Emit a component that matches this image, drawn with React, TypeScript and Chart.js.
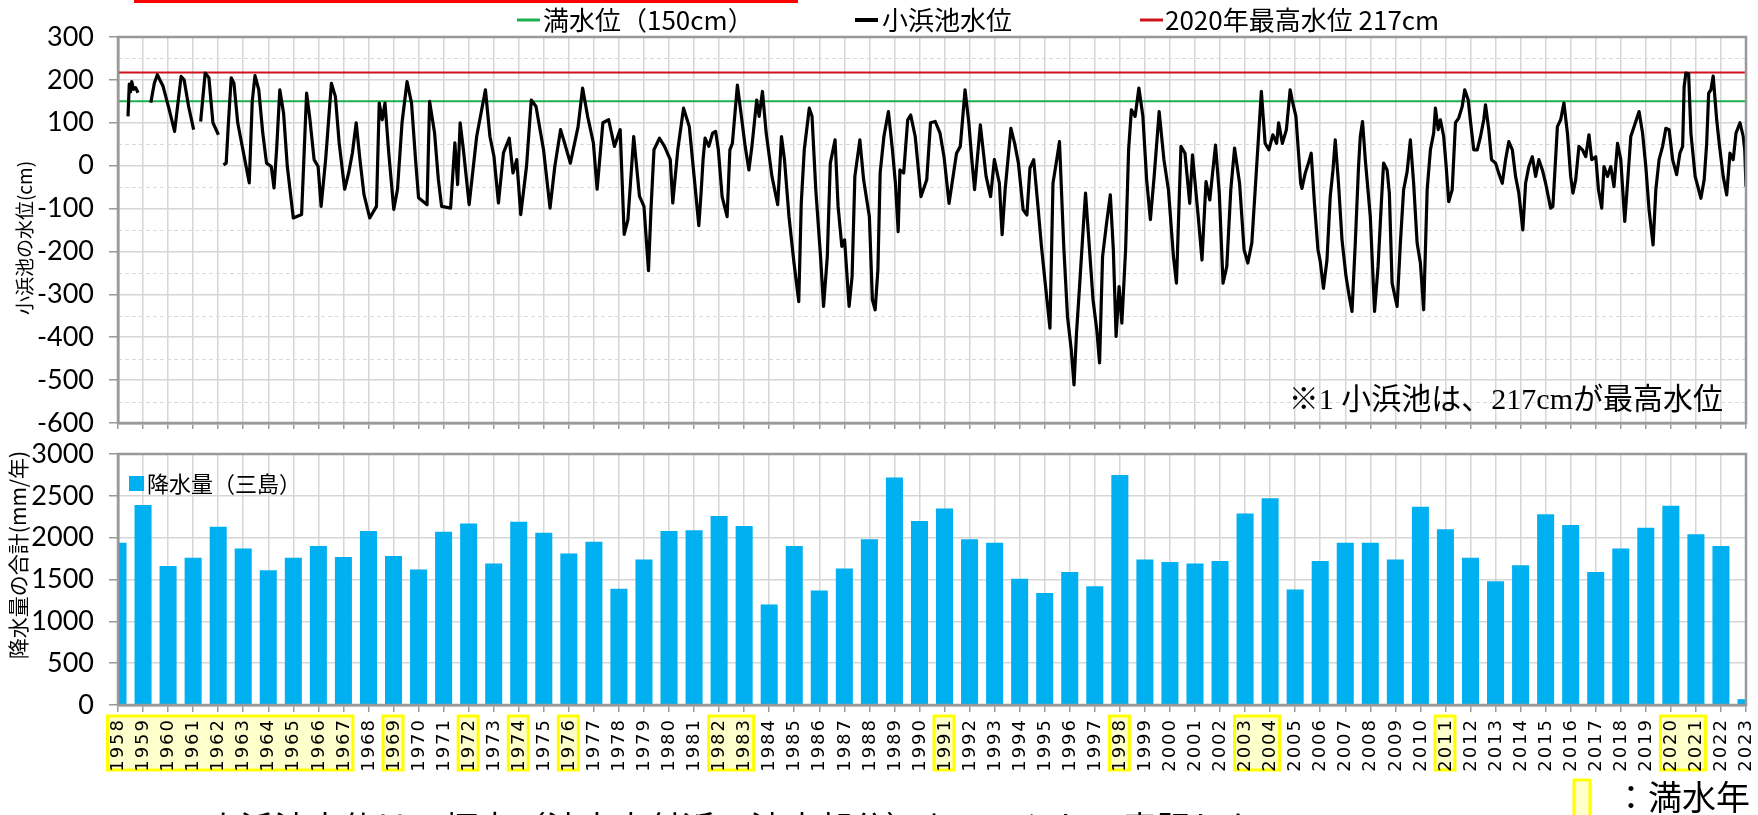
import React, { useEffect, useRef } from 'react';
import { Chart, registerables } from 'chart.js';

Chart.register(...registerables);

// ---------- data ----------
const yearLabels: string[] = [
  '1958', '1959', '1960', '1961', '1962', '1963', '1964', '1965', '1966', '1967',
  '1968', '1969', '1970', '1971', '1972', '1973', '1974', '1975', '1976', '1977',
  '1978', '1979', '1980', '1981', '1982', '1983', '1984', '1985', '1986', '1987',
  '1988', '1989', '1990', '1991', '1992', '1993', '1994', '1995', '1996', '1997',
  '1998', '1999', '2000', '2001', '2002', '2003', '2004', '2005', '2006', '2007',
  '2008', '2009', '2010', '2011', '2012', '2013', '2014', '2015', '2016', '2017',
  '2018', '2019', '2020', '2021', '2022', '2023',
];

// 降水量（三島） mm/年
const rainfall: number[] = [
  1940, 2390, 1660, 1760, 2130, 1870, 1610, 1760, 1900, 1770,
  2080, 1780, 1620, 2070, 2170, 1690, 2190, 2060, 1810, 1950,
  1390, 1740, 2080, 2090, 2260, 2140, 1200, 1900, 1370, 1630,
  1980, 2720, 2200, 2350, 1980, 1940, 1510, 1340, 1590, 1420,
  2750, 1740, 1710, 1690, 1720, 2290, 2470, 1380, 1720, 1940,
  1940, 1740, 2370, 2100, 1760, 1480, 1670, 2280, 2150, 1590,
  1870, 2120, 2380, 2040, 1900, 70,
];

// 満水年 (highlighted year spans)
const fullYearSpans: [string, string][] = [
  ['1958', '1967'], ['1969', '1969'], ['1972', '1972'], ['1974', '1974'],
  ['1976', '1976'], ['1982', '1983'], ['1991', '1991'], ['1998', '1998'],
  ['2003', '2004'], ['2011', '2011'], ['2020', '2021'],
];

// 小浜池水位 (cm) : [year, level]
const levelPoints: [number, number | null][] = [
  [1958.40, 115], [1958.45, 190], [1958.50, 172], [1958.55, 196], [1958.62, 178], [1958.70, 182], [1958.80, 170], [1959.00, null],
  [1959.31, 147], [1959.45, 192], [1959.57, 212], [1959.80, 185], [1960.03, 134], [1960.26, 80], [1960.41, 154], [1960.52, 208],
  [1960.64, 200], [1960.82, 138], [1961.02, 84], [1961.15, null],
  [1961.30, 103], [1961.48, 216], [1961.63, 205], [1961.79, 100], [1962.01, 72], [1962.10, null],
  [1962.21, 2], [1962.32, 6], [1962.40, 91], [1962.52, 205], [1962.63, 192], [1962.78, 100], [1963.01, 30], [1963.24, -40],
  [1963.36, 150], [1963.47, 210], [1963.62, 177], [1963.78, 76], [1963.93, 6], [1964.12, -2], [1964.23, -52], [1964.34, 45],
  [1964.46, 177], [1964.61, 123], [1964.76, -2], [1965.00, -122], [1965.33, -114], [1965.53, 169], [1965.65, 115], [1965.83, 14],
  [1965.99, -2], [1966.11, -95], [1966.29, 14], [1966.52, 192], [1966.68, 161], [1966.83, 53], [1967.05, -55], [1967.21, -17],
  [1967.36, 30], [1967.51, 100], [1967.66, 14], [1967.82, -67], [1968.05, -122], [1968.32, -95], [1968.43, 146], [1968.55, 107],
  [1968.66, 146], [1968.81, 30], [1969.01, -102], [1969.16, -55], [1969.34, 100], [1969.54, 196], [1969.72, 146], [1969.88, 14],
  [1970.00, -75], [1970.34, -91], [1970.44, 150], [1970.64, 76], [1970.79, -32], [1970.92, -95], [1971.28, -99], [1971.45, 53],
  [1971.56, -44], [1971.66, 100], [1971.79, 37], [1972.02, -91], [1972.32, 68], [1972.67, 177], [1972.85, 68], [1973.01, 22],
  [1973.19, -87], [1973.39, 30], [1973.62, 64], [1973.77, -17], [1973.92, 14], [1974.08, -114], [1974.31, -2], [1974.50, 153],
  [1974.69, 138], [1974.99, 37], [1975.25, -99], [1975.44, -2], [1975.67, 84], [1975.83, 53], [1976.06, 6], [1976.37, 91],
  [1976.55, 181], [1976.75, 115], [1976.98, 53], [1977.13, -55], [1977.36, 100], [1977.59, 107], [1977.82, 45], [1978.05, 84],
  [1978.21, -160], [1978.36, -126], [1978.59, 68], [1978.82, -71], [1979.00, -95], [1979.18, -245], [1979.28, -102], [1979.40, 37],
  [1979.62, 64], [1979.82, 45], [1980.05, 14], [1980.15, -87], [1980.35, 37], [1980.58, 134], [1980.81, 91], [1981.04, -48],
  [1981.19, -140], [1981.28, -64], [1981.36, 14], [1981.44, 64], [1981.59, 45], [1981.74, 76], [1981.86, 80], [1981.97, 37],
  [1982.12, -72], [1982.32, -119], [1982.43, 37], [1982.53, 52], [1982.73, 188], [1982.89, 115], [1983.04, 45], [1983.19, -10],
  [1983.31, 45], [1983.50, 153], [1983.60, 115], [1983.73, 173], [1983.88, 76], [1984.11, -25], [1984.34, -91], [1984.49, 68],
  [1984.61, 14], [1984.79, -119], [1984.99, -227], [1985.18, -317], [1985.28, -88], [1985.40, 37], [1985.60, 134], [1985.71, 115],
  [1985.86, -56], [1986.05, -212], [1986.17, -328], [1986.32, -212], [1986.44, 6], [1986.63, 60], [1986.75, -95], [1986.90, -188],
  [1987.01, -173], [1987.19, -328], [1987.31, -258], [1987.42, -25], [1987.62, 60], [1987.77, -33], [1988.00, -119], [1988.12, -313],
  [1988.23, -336], [1988.34, -243], [1988.43, -17], [1988.58, 68], [1988.76, 126], [1988.92, 37], [1989.04, -41], [1989.15, -154],
  [1989.22, -10], [1989.37, -17], [1989.53, 107], [1989.65, 118], [1989.83, 68], [1990.06, -72], [1990.29, -33], [1990.44, 100],
  [1990.63, 103], [1990.82, 76], [1990.98, 21], [1991.18, -88], [1991.28, -49], [1991.48, 29], [1991.63, 45], [1991.82, 177],
  [1991.97, 100], [1992.09, 14], [1992.20, -56], [1992.43, 95], [1992.66, -25], [1992.84, -72], [1992.99, 14], [1993.19, -41],
  [1993.30, -161], [1993.42, -56], [1993.65, 87], [1993.80, 52], [1993.95, 6], [1994.14, -103], [1994.29, -115], [1994.41, -6],
  [1994.56, 14], [1994.72, -88], [1994.87, -188], [1995.02, -274], [1995.21, -379], [1995.33, -41], [1995.48, 14], [1995.59, 56],
  [1995.76, -188], [1995.91, -352], [1996.06, -429], [1996.17, -511], [1996.27, -390], [1996.40, -274], [1996.55, -134], [1996.63, -64],
  [1996.78, -188], [1996.93, -313], [1997.08, -383], [1997.19, -460], [1997.31, -212], [1997.47, -134], [1997.62, -68], [1997.74, -196],
  [1997.85, -398], [1997.97, -282], [1998.08, -367], [1998.23, -196], [1998.35, 37], [1998.46, 130], [1998.61, 115], [1998.76, 181],
  [1998.92, 115], [1999.07, -33], [1999.22, -126], [1999.37, -25], [1999.57, 126], [1999.76, 14], [1999.94, -56], [2000.14, -212],
  [2000.26, -274], [2000.44, 45], [2000.60, 29], [2000.79, -88], [2000.90, 25], [2001.13, -119], [2001.28, -220], [2001.44, -37],
  [2001.59, -80], [2001.82, 48], [2001.97, -64], [2002.12, -274], [2002.27, -235], [2002.43, -56], [2002.58, 41], [2002.78, -41],
  [2002.96, -196], [2003.11, -227], [2003.27, -180], [2003.42, -41], [2003.65, 173], [2003.80, 52], [2003.95, 37], [2004.11, 72],
  [2004.26, 52], [2004.34, 100], [2004.49, 52], [2004.65, 84], [2004.80, 177], [2004.88, 153], [2005.03, 115], [2005.22, -41],
  [2005.27, -53], [2005.40, -18], [2005.53, 6], [2005.64, 29], [2005.77, -88], [2005.91, -196], [2006.00, -223], [2006.13, -286],
  [2006.27, -220], [2006.40, -72], [2006.51, -10], [2006.60, 60], [2006.73, -41], [2006.87, -173], [2007.03, -258], [2007.16, -305],
  [2007.27, -340], [2007.40, -181], [2007.53, -2], [2007.60, 68], [2007.69, 103], [2007.80, 14], [2008.00, -119], [2008.17, -340],
  [2008.31, -235], [2008.44, -88], [2008.53, 6], [2008.67, -10], [2008.76, -64], [2008.87, -274], [2009.07, -328], [2009.20, -181],
  [2009.33, -56], [2009.47, -14], [2009.60, 60], [2009.73, -41], [2009.87, -181], [2010.00, -227], [2010.13, -336], [2010.27, -56],
  [2010.40, 37], [2010.53, 76], [2010.60, 134], [2010.71, 84], [2010.80, 107], [2010.93, 68], [2011.03, -2], [2011.13, -84],
  [2011.27, -56], [2011.40, 100], [2011.53, 111], [2011.67, 138], [2011.77, 177], [2011.91, 153], [2012.00, 103], [2012.13, 37],
  [2012.27, 37], [2012.40, 68], [2012.53, 107], [2012.60, 142], [2012.73, 84], [2012.84, 14], [2013.00, 6], [2013.13, -18],
  [2013.27, -41], [2013.40, 14], [2013.53, 56], [2013.67, 37], [2013.80, -25], [2013.93, -64], [2014.09, -150], [2014.20, -41],
  [2014.33, -2], [2014.47, 21], [2014.60, -25], [2014.73, 14], [2014.87, -10], [2015.00, -41], [2015.20, -99], [2015.29, -95],
  [2015.47, 91], [2015.60, 107], [2015.73, 146], [2015.87, 76], [2016.00, -25], [2016.09, -64], [2016.20, -33], [2016.33, 45],
  [2016.47, 37], [2016.60, 21], [2016.73, 72], [2016.84, 14], [2017.00, 21], [2017.11, -56], [2017.24, -99], [2017.33, -2],
  [2017.47, -25], [2017.60, -2], [2017.73, -49], [2017.87, 52], [2018.00, 14], [2018.16, -130], [2018.27, -41], [2018.40, 68],
  [2018.53, 91], [2018.73, 126], [2018.87, 76], [2019.00, -2], [2019.13, -103], [2019.29, -185], [2019.40, -56], [2019.53, 14],
  [2019.67, 45], [2019.80, 87], [2019.93, 84], [2020.07, 14], [2020.23, -21], [2020.36, 29], [2020.47, 45], [2020.53, 184],
  [2020.60, 216], [2020.71, 214], [2020.80, 76], [2020.97, -25], [2021.20, -76], [2021.33, -33], [2021.43, 52], [2021.51, 169],
  [2021.60, 177], [2021.69, 209], [2021.83, 107], [2021.93, 52], [2022.09, -25], [2022.23, -68], [2022.36, 29], [2022.49, 14],
  [2022.60, 76], [2022.76, 100], [2022.89, 68], [2022.95, 37], [2023.00, -49],
];

const fullLevel = 150; // 満水位
const maxLevel = 217; // 2020年最高水位
const levelRange = [-600, 300];
const levelStep = 100;
const rainRange = [0, 3000];
const rainStep = 500;

const legendTop: string[] = ['満水位（150cm）', '小浜池水位', '2020年最高水位 217cm'];
const rainLegend = '降水量（三島）';
const levelAxisTitle = '小浜池の水位(cm)';
const rainAxisTitle = '降水量の合計(mm/年)';
const noteText = '※1 小浜池は、217cmが最高水位';
const fullYearLegend = '：満水年';
const footText = '※小浜池水位は、標高（池中央付近の池底部分）を0cmとして表記した';

// ---------- styles ----------
const JP = '"Noto Sans CJK JP", "Noto Sans", sans-serif';
const NUM = 'Lato, "Noto Sans CJK JP", sans-serif';
const GREEN = '#1DB04E';
const RED = '#D0121B';
const BLUE = '#00B0F0';
const GRID = '#d6d6d6';
const AXIS = '#999999';

const frame = (chart: any) => {
  const { ctx, chartArea: a } = chart;
  ctx.save();
  ctx.strokeStyle = AXIS;
  ctx.lineWidth = 2.5;
  ctx.strokeRect(a.left, a.top, a.right - a.left, a.bottom - a.top);
  ctx.restore();
};

const vTitle = (ctx: any, text: string, font: string, cx: number, cy: number) => {
  ctx.save();
  ctx.translate(cx, cy);
  ctx.rotate(-Math.PI / 2);
  ctx.font = font;
  ctx.fillStyle = '#000';
  ctx.textAlign = 'center';
  ctx.textBaseline = 'middle';
  ctx.fillText(text, 0, 0);
  ctx.restore();
};

const noPad = (s: any) => {
  s.width = 118;
  s.paddingTop = 0;
  s.paddingBottom = 0;
};

const topDecor = {
  id: 'topDecor',
  beforeDatasetsDraw(chart: any) {
    const { ctx, chartArea: a, scales } = chart;
    const y = scales.y;
    ctx.save();
    ctx.strokeStyle = '#d9d9d9';
    ctx.lineWidth = 1;
    ctx.setLineDash([4, 3]);
    for (let v = levelRange[0] + levelStep / 2; v < levelRange[1]; v += levelStep) {
      const py = Math.round(y.getPixelForValue(v)) + 0.5;
      ctx.beginPath();
      ctx.moveTo(a.left, py);
      ctx.lineTo(a.right, py);
      ctx.stroke();
    }
    ctx.restore();
  },
  afterDraw(chart: any) {
    frame(chart);
    const { ctx } = chart;
    vTitle(ctx, levelAxisTitle, `19px ${JP}`, 25, 238);
    ctx.save();
    // legend
    const items = [
      { color: GREEN, x1: 517, x2: 540, tx: 543, w: 3 },
      { color: '#000', x1: 855, x2: 878, tx: 882, w: 4 },
      { color: RED, x1: 1140, x2: 1163, tx: 1165, w: 3 },
    ];
    ctx.font = `26px ${JP}`;
    ctx.textBaseline = 'middle';
    ctx.textAlign = 'left';
    items.forEach((it, i) => {
      ctx.strokeStyle = it.color;
      ctx.lineWidth = it.w;
      ctx.beginPath();
      ctx.moveTo(it.x1, 20);
      ctx.lineTo(it.x2, 20);
      ctx.stroke();
      ctx.fillStyle = '#000';
      ctx.fillText(legendTop[i], it.tx, 20);
    });
    // note
    ctx.font = `30px "Liberation Serif", "Noto Sans CJK JP", serif`;
    ctx.textAlign = 'right';
    ctx.fillText(noteText, 1723, 401);
    ctx.restore();
  },
};

const bottomDecor = {
  id: 'bottomDecor',
  afterDraw(chart: any) {
    frame(chart);
    const { ctx, scales } = chart;
    const x = scales.x;
    vTitle(ctx, rainAxisTitle, `21px ${JP}`, 18, 115);
    ctx.save();
    // 満水年 boxes
    fullYearSpans.forEach(([a, b]) => {
      const ia = yearLabels.indexOf(a);
      const ib = yearLabels.indexOf(b);
      const xa = x.getPixelForValue(ia) - 10.5;
      const xb = x.getPixelForValue(ib) + 9.5;
      ctx.fillStyle = '#FFFFCC';
      ctx.fillRect(xa, 276, xb - xa, 54);
      ctx.strokeStyle = '#FFFF00';
      ctx.lineWidth = 3;
      ctx.strokeRect(xa, 276, xb - xa, 54);
    });
    // year labels (rotated)
    ctx.fillStyle = '#000';
    ctx.font = '18px "DejaVu Sans", sans-serif';
    (ctx as any).letterSpacing = '2px';
    ctx.textAlign = 'right';
    ctx.textBaseline = 'middle';
    yearLabels.forEach((lab, i) => {
      const px = x.getPixelForValue(i);
      ctx.save();
      ctx.translate(px + 0.5, 278);
      ctx.rotate(-Math.PI / 2);
      ctx.fillText(lab, 0, 0);
      ctx.restore();
    });
    (ctx as any).letterSpacing = '0px';
    // rainfall legend
    ctx.fillStyle = BLUE;
    ctx.fillRect(129, 36, 15, 15);
    ctx.fillStyle = '#000';
    ctx.font = `22px ${JP}`;
    ctx.textAlign = 'left';
    ctx.fillText(rainLegend, 147, 44);
    // 満水年 legend
    ctx.fillStyle = '#FFFFCC';
    ctx.fillRect(1574, 340, 16, 40);
    ctx.strokeStyle = '#FFFF00';
    ctx.lineWidth = 3;
    ctx.strokeRect(1574, 340, 16, 40);
    ctx.fillStyle = '#000';
    ctx.font = `34px ${JP}`;
    ctx.fillText(fullYearLegend, 1614, 357);
    ctx.restore();
  },
};

export default function App() {
  const topRef = useRef<HTMLCanvasElement>(null);
  const botRef = useRef<HTMLCanvasElement>(null);

  useEffect(() => {
    const lineData = levelPoints.map(([t, v]) => ({ x: t, y: v }));
    const first = Number(yearLabels[0]);
    const last = Number(yearLabels[yearLabels.length - 1]);

    const top = new Chart(topRef.current as HTMLCanvasElement, {
      type: 'line',
      data: {
        datasets: [
          {
            label: legendTop[1],
            data: lineData as any,
            borderColor: '#000',
            borderWidth: 3.2,
            borderJoinStyle: 'round',
            pointRadius: 0,
            spanGaps: false,
            tension: 0,
          },
          {
            label: legendTop[0],
            data: [{ x: first, y: fullLevel }, { x: last, y: fullLevel }],
            borderColor: GREEN,
            borderWidth: 2,
            pointRadius: 0,
          },
          {
            label: legendTop[2],
            data: [{ x: first, y: maxLevel }, { x: last, y: maxLevel }],
            borderColor: RED,
            borderWidth: 2,
            pointRadius: 0,
          },
        ],
      },
      options: {
        responsive: false,
        animation: false,
        devicePixelRatio: 1,
        layout: { padding: { top: 37, right: 12, left: 0, bottom: 0 } },
        plugins: { legend: { display: false }, tooltip: { enabled: false } },
        scales: {
          x: {
            type: 'linear',
            min: first,
            max: last,
            ticks: { display: false, stepSize: 1 },
            grid: { color: GRID, lineWidth: 1.5, drawTicks: true, tickLength: 6, tickColor: AXIS },
            border: { display: true, color: AXIS, width: 2.5 },
            afterFit: (s: any) => { s.height = 17; s.paddingLeft = 0; s.paddingRight = 0; },
          },
          y: {
            min: levelRange[0],
            max: levelRange[1],
            ticks: {
              stepSize: levelStep,
              color: '#000',
              font: { family: NUM, size: 27 },
              padding: 15,
              callback: (v: any) => String(v),
            },
            grid: { color: GRID, lineWidth: 1.5, tickLength: 9, tickColor: AXIS },
            border: { display: true, color: AXIS, width: 2.5 },
            afterFit: noPad,
          },
        },
      } as any,
      plugins: [topDecor],
    });

    const bottom = new Chart(botRef.current as HTMLCanvasElement, {
      type: 'bar',
      data: {
        labels: yearLabels,
        datasets: [
          {
            label: rainLegend,
            data: rainfall,
            backgroundColor: BLUE,
            borderWidth: 0,
            barPercentage: 0.68,
            categoryPercentage: 1,
          },
        ],
      },
      options: {
        responsive: false,
        animation: false,
        devicePixelRatio: 1,
        layout: { padding: { top: 14, right: 12, left: 0, bottom: 0 } },
        plugins: { legend: { display: false }, tooltip: { enabled: false } },
        scales: {
          x: {
            type: 'category',
            offset: false,
            ticks: { display: false },
            grid: { offset: false, color: GRID, lineWidth: 1.5, drawTicks: true, tickLength: 7, tickColor: AXIS },
            border: { display: true, color: AXIS, width: 2.5 },
            afterFit: (s: any) => { s.height = 110; s.paddingLeft = 0; s.paddingRight = 0; },
          },
          y: {
            min: rainRange[0],
            max: rainRange[1],
            ticks: {
              stepSize: rainStep,
              color: '#000',
              font: { family: NUM, size: 27 },
              padding: 15,
              callback: (v: any) => String(v),
            },
            grid: { color: GRID, lineWidth: 1.5, tickLength: 9, tickColor: AXIS },
            border: { display: true, color: AXIS, width: 2.5 },
            afterFit: noPad,
          },
        },
      } as any,
      plugins: [bottomDecor],
    });

    return () => {
      top.destroy();
      bottom.destroy();
    };
  }, []);

  return (
    <div
      style={{
        position: 'fixed',
        left: 0,
        top: 0,
        width: 1758,
        height: 815,
        overflow: 'hidden',
        background: '#fff',
      }}
    >
      <div style={{ position: 'absolute', left: 134, top: 0, width: 664, height: 3, background: '#FF0000' }} />
      <canvas
        ref={topRef}
        width={1758}
        height={440}
        style={{ position: 'absolute', left: 0, top: 0, width: 1758, height: 440 }}
      />
      <canvas
        ref={botRef}
        width={1758}
        height={375}
        style={{ position: 'absolute', left: 0, top: 440, width: 1758, height: 375 }}
      />
      <div
        style={{
          position: 'absolute',
          left: 172,
          top: 807,
          whiteSpace: 'nowrap',
          fontFamily: JP,
          fontSize: 34,
          lineHeight: '40px',
          color: '#000',
        }}
      >
        {footText}
      </div>
    </div>
  );
}
